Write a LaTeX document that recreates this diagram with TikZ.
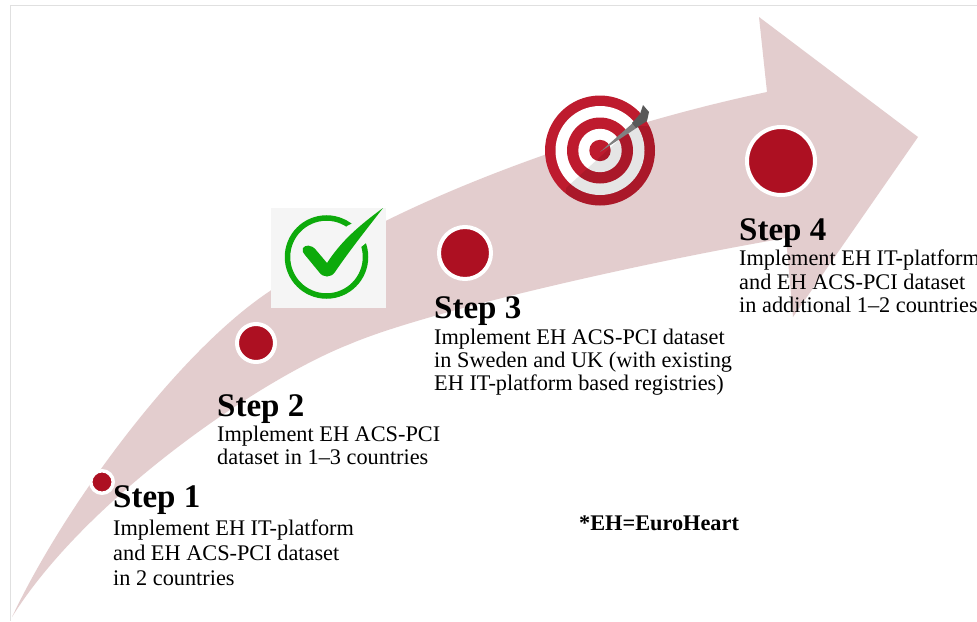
\documentclass[tikz,border=0pt]{standalone}
\usepackage{fontspec}
\setmainfont{Liberation Serif}
\definecolor{arrowpink}{HTML}{E3CDCE}
\definecolor{dotred}{HTML}{AD1022}
\definecolor{ringred}{HTML}{BE1B2E}
\definecolor{tickgreen}{HTML}{0DAA0B}
\tikzset{
  stepdot/.style={circle,fill=dotred,draw=white,line width=4pt,inner sep=0pt},
  steptitle/.style={anchor=base west,font=\fontsize{33}{33}\selectfont\bfseries,inner sep=0pt},
  stepbody/.style={anchor=north west,align=left,inner sep=0pt},
}
\begin{document}
\begin{tikzpicture}[x=1pt,y=-1pt]
\useasboundingbox (0,0) rectangle (977,621);
\fill[white] (0,0) rectangle (977,621);
\draw[draw=black!12,line width=1.2pt] (10.5,621) -- (10.5,5.5) -- (977,5.5);
\fill[arrowpink] (12,617) .. controls (65,505) and (178,352) .. (270,291)
  .. controls (380,205) and (600,127) .. (767,92)
  -- (759,17) -- (918,137) -- (793,317) -- (786,238)
  .. controls (640,263) and (425,312) .. (350,344)
  .. controls (258,380) and (85,500) .. cycle;
\node[stepdot,line width=3.5pt,minimum size=22.5pt] (d1) at (102,482) {};
\node[stepdot,minimum size=38pt] (d2) at (256,343) {};
\node[stepdot,minimum size=52pt] (d3) at (465,253) {};
\node[stepdot,minimum size=68pt] (d4) at (781,161) {};
% check icon
\fill[black!4] (271,208) rectangle (386,308);
\draw[tickgreen,line width=5.5pt] (326.5,257) circle (39);
\fill[black!4] (347,226) -- (384,208) -- (366,243) -- (342,262) -- (330,245) -- cycle;
\fill[tickgreen] (383,208) .. controls (360,225) and (342,240) .. (327,263)
  -- (316,250) .. controls (311,244) and (305,245) .. (303,248)
  .. controls (302,251) and (303,253) .. (305,255)
  -- (319,272) .. controls (323,278) and (331,278) .. (335,272)
  .. controls (350,250) and (366,230) .. cycle;
% target icon
\fill[ringred] (600,150.5) circle (55);
\fill[white] (600,150.5) circle (44.5);
\fill[ringred] (600,150.5) circle (33);
\fill[white] (600,150.5) circle (21.7);
\fill[ringred] (600,150.5) circle (10.7);
\begin{scope}
\clip (600,150.5) circle (55);
\fill[black,opacity=.1] (566,188) -- (634,126) -- (670,126) -- (670,220) -- (566,220) -- cycle;
\end{scope}
\fill[black!50] (600,152) -- (634,122) -- (638,127) -- cycle;
\fill[black!65] (632,123) -- (640,114) -- (643,105) -- (649,112) -- (647,121) -- (636,128) -- cycle;
% text
\node[steptitle] (t1) at (113,507) {Step 1};
\node[stepbody,font=\fontsize{22.3}{25}\selectfont] (b1) at (113,520) {Implement EH IT-platform\\and EH ACS-PCI dataset\\in 2 countries};
\node[steptitle] (t2) at (217,416) {Step 2};
\node[stepbody,font=\fontsize{22.3}{23}\selectfont] (b2) at (217,426) {Implement EH ACS-PCI\\dataset in 1--3 countries};
\node[steptitle] (t3) at (434,318) {Step 3};
\node[stepbody,font=\fontsize{22.3}{23}\selectfont] (b3) at (434,329) {Implement EH ACS-PCI dataset\\in Sweden and UK (with existing\\EH IT-platform based registries)};
\node[steptitle] (t4) at (739,240) {Step 4};
\node[stepbody,font=\fontsize{22.3}{23.5}\selectfont] (b4) at (739,250) {Implement EH IT-platform\\and EH ACS-PCI dataset\\in additional 1--2 countries};
\node[anchor=base west,inner sep=0pt,font=\fontsize{22.3}{25}\selectfont\bfseries] (note) at (579,530) {*EH=EuroHeart};
\end{tikzpicture}
\end{document}
